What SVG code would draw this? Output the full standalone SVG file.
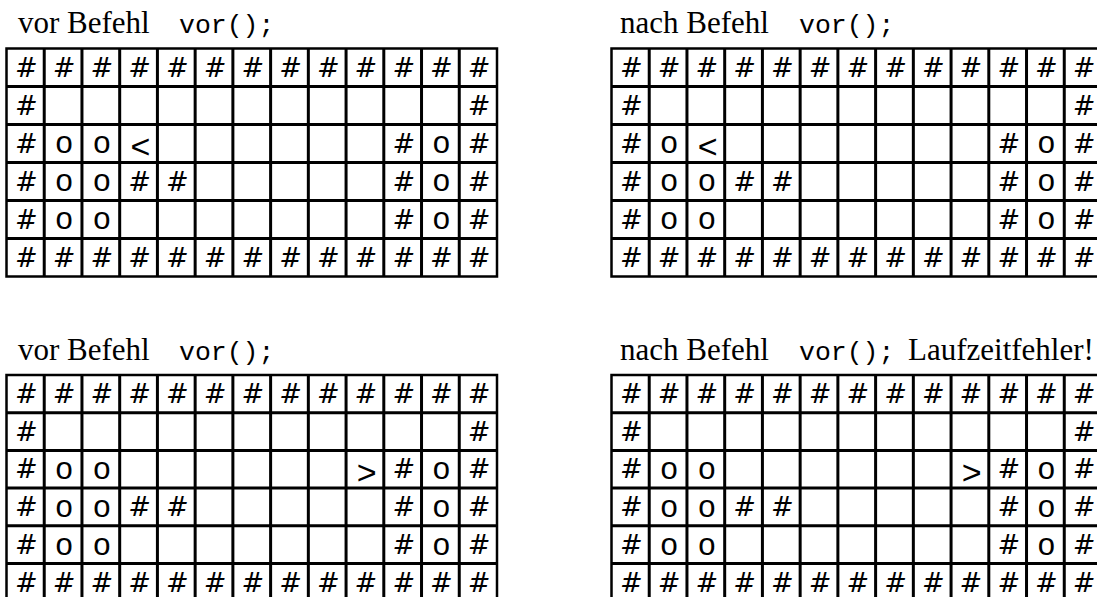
<svg xmlns="http://www.w3.org/2000/svg" width="1097" height="597" viewBox="0 0 1097 597">
<style>
.inner{fill:none;stroke:#000;stroke-width:3}
.outer{fill:none;stroke:#000;stroke-width:2.5}
.cap{font-family:"Liberation Serif","Times New Roman",serif;font-size:31px;fill:#000}
.code{font-family:"Liberation Mono","Courier New",monospace;font-size:26.5px;fill:#000}
.r{font-family:"Liberation Sans",Arial,sans-serif;fill:#000;text-anchor:middle}
.h{font-family:"DejaVu Sans",sans-serif;font-size:27px;font-style:oblique}
.c{font-size:31px}
.a{font-size:34px}
</style>
<defs>
<path id="gT" d="M37.73 0V228M75.46 0V228M113.19 0V228M150.92 0V228M188.65 0V228M226.38 0V228M264.11 0V228M301.84 0V228M339.57 0V228M377.3 0V228M415.03 0V228M452.76 0V228M0 38H490.5M0 76H490.5M0 114H490.5M0 152H490.5M0 190H490.5"/>
<path id="gB" d="M37.73 0V226.2M75.46 0V226.2M113.19 0V226.2M150.92 0V226.2M188.65 0V226.2M226.38 0V226.2M264.11 0V226.2M301.84 0V226.2M339.57 0V226.2M377.3 0V226.2M415.03 0V226.2M452.76 0V226.2M0 37.7H490.5M0 75.4H490.5M0 113.1H490.5M0 150.8H490.5M0 188.5H490.5"/>
</defs>
<rect width="1097" height="597" fill="#fff"/>

<g id="title-vor-1">
<text class="cap" x="18" y="33">vor Befehl</text>
<text class="code" x="179" y="33">vor();</text>
</g>
<g id="title-nach-1">
<text class="cap" x="620" y="33">nach Befehl</text>
<text class="code" x="799" y="33">vor();</text>
</g>
<g id="title-vor-2">
<text class="cap" x="18" y="359.5">vor Befehl</text>
<text class="code" x="179" y="359.5">vor();</text>
</g>
<g id="title-nach-2">
<text class="cap" x="620" y="359.5">nach Befehl</text>
<text class="code" x="799" y="359.5">vor();</text>
<text class="cap" x="908" y="359.5">Laufzeitfehler!</text>
</g>

<g id="grid-vor-1" transform="translate(6.5,48.5)">
<use href="#gT" class="inner"/>
<rect class="outer" x="0" y="0" width="490.5" height="228"/>
<text class="r h" x="19.9 57.6 95.3 133.1 170.8 208.5 246.2 284 321.7 359.4 397.2 434.9 472.6" y="28">#############</text>
<text class="r h" x="19.9 472.6" y="66">##</text>
<text class="r"><tspan class="h" x="19.9" y="104">#</tspan><tspan class="c" x="57.6 95.3" y="104.8">oo</tspan><tspan class="a" x="134" y="109.5">&lt;</tspan><tspan class="h" x="397.2" y="104">#</tspan><tspan class="c" x="434.9" y="104.8">o</tspan><tspan class="h" x="472.6" y="104">#</tspan></text>
<text class="r"><tspan class="h" x="19.9" y="142">#</tspan><tspan class="c" x="57.6 95.3" y="142.8">oo</tspan><tspan class="h" x="133.1 170.8 397.2" y="142">###</tspan><tspan class="c" x="434.9" y="142.8">o</tspan><tspan class="h" x="472.6" y="142">#</tspan></text>
<text class="r"><tspan class="h" x="19.9" y="180">#</tspan><tspan class="c" x="57.6 95.3" y="180.8">oo</tspan><tspan class="h" x="397.2" y="180">#</tspan><tspan class="c" x="434.9" y="180.8">o</tspan><tspan class="h" x="472.6" y="180">#</tspan></text>
<text class="r h" x="19.9 57.6 95.3 133.1 170.8 208.5 246.2 284 321.7 359.4 397.2 434.9 472.6" y="218">#############</text>
</g>

<g id="grid-nach-1" transform="translate(611.5,48.5)">
<use href="#gT" class="inner"/>
<rect class="outer" x="0" y="0" width="490.5" height="228"/>
<text class="r h" x="19.9 57.6 95.3 133.1 170.8 208.5 246.2 284 321.7 359.4 397.2 434.9 472.6" y="28">#############</text>
<text class="r h" x="19.9 472.6" y="66">##</text>
<text class="r"><tspan class="h" x="19.9" y="104">#</tspan><tspan class="c" x="57.6" y="104.8">o</tspan><tspan class="a" x="96.2" y="109.5">&lt;</tspan><tspan class="h" x="397.2" y="104">#</tspan><tspan class="c" x="434.9" y="104.8">o</tspan><tspan class="h" x="472.6" y="104">#</tspan></text>
<text class="r"><tspan class="h" x="19.9" y="142">#</tspan><tspan class="c" x="57.6 95.3" y="142.8">oo</tspan><tspan class="h" x="133.1 170.8 397.2" y="142">###</tspan><tspan class="c" x="434.9" y="142.8">o</tspan><tspan class="h" x="472.6" y="142">#</tspan></text>
<text class="r"><tspan class="h" x="19.9" y="180">#</tspan><tspan class="c" x="57.6 95.3" y="180.8">oo</tspan><tspan class="h" x="397.2" y="180">#</tspan><tspan class="c" x="434.9" y="180.8">o</tspan><tspan class="h" x="472.6" y="180">#</tspan></text>
<text class="r h" x="19.9 57.6 95.3 133.1 170.8 208.5 246.2 284 321.7 359.4 397.2 434.9 472.6" y="218">#############</text>
</g>

<g id="grid-vor-2" transform="translate(6.5,375)">
<use href="#gB" class="inner"/>
<rect class="outer" x="0" y="0" width="490.5" height="226.2"/>
<text class="r h" x="19.9 57.6 95.3 133.1 170.8 208.5 246.2 284 321.7 359.4 397.2 434.9 472.6" y="28">#############</text>
<text class="r h" x="19.9 472.6" y="65.7">##</text>
<text class="r"><tspan class="h" x="19.9" y="103.4">#</tspan><tspan class="c" x="57.6 95.3" y="104.2">oo</tspan><tspan class="a" x="360.3" y="108.9">&gt;</tspan><tspan class="h" x="397.2" y="103.4">#</tspan><tspan class="c" x="434.9" y="104.2">o</tspan><tspan class="h" x="472.6" y="103.4">#</tspan></text>
<text class="r"><tspan class="h" x="19.9" y="141.1">#</tspan><tspan class="c" x="57.6 95.3" y="141.9">oo</tspan><tspan class="h" x="133.1 170.8 397.2" y="141.1">###</tspan><tspan class="c" x="434.9" y="141.9">o</tspan><tspan class="h" x="472.6" y="141.1">#</tspan></text>
<text class="r"><tspan class="h" x="19.9" y="178.8">#</tspan><tspan class="c" x="57.6 95.3" y="179.6">oo</tspan><tspan class="h" x="397.2" y="178.8">#</tspan><tspan class="c" x="434.9" y="179.6">o</tspan><tspan class="h" x="472.6" y="178.8">#</tspan></text>
<text class="r h" x="19.9 57.6 95.3 133.1 170.8 208.5 246.2 284 321.7 359.4 397.2 434.9 472.6" y="216.5">#############</text>
</g>

<g id="grid-nach-2" transform="translate(611.5,375)">
<use href="#gB" class="inner"/>
<rect class="outer" x="0" y="0" width="490.5" height="226.2"/>
<text class="r h" x="19.9 57.6 95.3 133.1 170.8 208.5 246.2 284 321.7 359.4 397.2 434.9 472.6" y="28">#############</text>
<text class="r h" x="19.9 472.6" y="65.7">##</text>
<text class="r"><tspan class="h" x="19.9" y="103.4">#</tspan><tspan class="c" x="57.6 95.3" y="104.2">oo</tspan><tspan class="a" x="360.3" y="108.9">&gt;</tspan><tspan class="h" x="397.2" y="103.4">#</tspan><tspan class="c" x="434.9" y="104.2">o</tspan><tspan class="h" x="472.6" y="103.4">#</tspan></text>
<text class="r"><tspan class="h" x="19.9" y="141.1">#</tspan><tspan class="c" x="57.6 95.3" y="141.9">oo</tspan><tspan class="h" x="133.1 170.8 397.2" y="141.1">###</tspan><tspan class="c" x="434.9" y="141.9">o</tspan><tspan class="h" x="472.6" y="141.1">#</tspan></text>
<text class="r"><tspan class="h" x="19.9" y="178.8">#</tspan><tspan class="c" x="57.6 95.3" y="179.6">oo</tspan><tspan class="h" x="397.2" y="178.8">#</tspan><tspan class="c" x="434.9" y="179.6">o</tspan><tspan class="h" x="472.6" y="178.8">#</tspan></text>
<text class="r h" x="19.9 57.6 95.3 133.1 170.8 208.5 246.2 284 321.7 359.4 397.2 434.9 472.6" y="216.5">#############</text>
</g>
</svg>
